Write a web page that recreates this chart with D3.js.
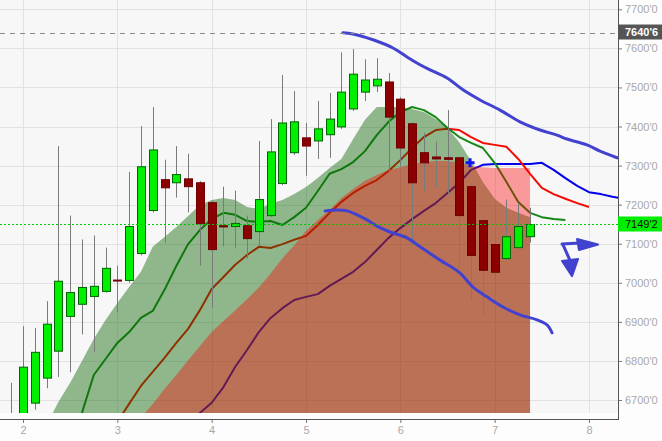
<!DOCTYPE html>
<html><head><meta charset="utf-8">
<script src="https://cdn.jsdelivr.net/npm/d3@7"></script>
<style>html,body{margin:0;padding:0;background:#fdfdfd;} svg{display:block;}</style>
</head><body><svg id="c" width="662" height="441"></svg>
<script>
// ---------- DATA ----------
const barTimes = [1.875, 2.000, 2.125, 2.250, 2.375, 2.500, 2.625, 2.750, 2.875, 3.000, 3.125, 3.250, 3.375,
  3.500, 3.625, 3.750, 3.875, 4.000, 4.125, 4.250, 4.375, 4.500, 4.625, 4.750, 4.875, 5.000, 5.125, 5.250,
  5.375, 5.500, 5.625, 5.750, 5.875, 6.000, 6.125, 6.250, 6.375, 6.500, 6.625, 6.750, 6.875, 7.000, 7.125,
  7.250, 7.375, 7.500, 7.625, 7.750, 7.875, 8.000, 8.125, 8.250, 8.375];

const opens  = [6650, 6640, 6692, 6756, 6825, 6914, 6945, 6965, 6978, 7007, 7006, 7075, 7185, 7264, 7256,
  7266, 7256, 7205, 7146, 7144, 7146, 7131, 7172, 7254, 7333, 7371, 7363, 7379, 7399, 7445, 7488, 7504,
  7514, 7470, 7407, 7333, 7322, 7320, 7320, 7246, 7159, 7098, 7062, 7090, 7118];
const highs  = [6744, 6889, 6884, 6953, 7350, 7172, 7111, 7121, 7090, 7044, 7284, 7401, 7450, 7315, 7350,
  7330, 7260, 7210, 7246, 7236, 7172, 7363, 7419, 7532, 7491, 7409, 7465, 7486, 7590, 7598, 7572, 7575,
  7537, 7475, 7410, 7384, 7361, 7442, 7322, 7250, 7162, 7110, 7213, 7205, 7192];
const lows   = [6560, 6620, 6675, 6730, 6759, 6771, 6868, 6822, 6975, 6924, 7000, 7070, 7180, 7103, 7218,
  7180, 7044, 6935, 7093, 7088, 7062, 7095, 7168, 7250, 7327, 7274, 7317, 7320, 7394, 7440, 7465, 7488,
  7284, 7297, 7098, 7236, 7243, 7225, 7039, 6953, 6914, 6965, 7058, 7088, 7103];
const closes = [6600, 6784, 6822, 6894, 7004, 6975, 6988, 6991, 7037, 7005, 7144, 7297, 7340, 7243, 7277,
  7246, 7151, 7085, 7143, 7152, 7113, 7213, 7335, 7409, 7412, 7350, 7394, 7419, 7488, 7534, 7519, 7521,
  7424, 7345, 7256, 7307, 7317, 7316, 7172, 7070, 7032, 7027, 7118, 7144, 7149.2];

const N = null;
const greenBand = [N, N, N, 6636, 6695, 6744, 6800, 6856, 6905, 6948, 6989, 7028, 7092, 7117, 7143, 7171,
  7199, 7212, 7217, 7212, 7194, 7189, 7202, 7212, 7227, 7245, 7268, 7294, 7317, 7368, 7417, 7450, 7450,
  7450, 7445, 7437, 7419, 7396, 7360, 7312, 7258, 7215, 7192, 7179, 7168, N, N, N, N, N, N, N, N];
const redBand = [N, N, N, N, N, N, N, N, N, N, N, 6654, 6690, 6728, 6764, 6802, 6838, 6874, 6902, 6930,
  6958, 6988, 7024, 7063, 7096, 7133, 7161, 7186, 7217, 7240, 7261, 7276, 7289, 7296, 7304, 7309, 7312,
  7312, 7307, 7299, 7296, 7294, 7294, 7294, 7294, N, N, N, N, N, N, N, N];
const lips = [N, N, N, N, N, 6600, 6667, 6764, 6805, 6846, 6874, 6910, 6928, 6982, 7043, 7099, 7135, 7163,
  7179, 7174, 7158, 7156, 7158, 7148, 7168, 7192, 7235, 7279, 7291, 7309, 7337, 7378, 7412, 7437, 7450,
  7442, 7424, 7396, 7373, 7358, 7345, 7307, 7258, 7207, 7179, 7168, 7163, 7161, N, N, N, N, N];
const teeth = [N, N, N, N, N, N, N, N, N, 6644, 6690, 6736, 6772, 6808, 6846, 6882, 6930, 6984, 7015, 7046,
  7071, 7092, 7089, 7099, 7110, 7120, 7148, 7179, 7207, 7230, 7248, 7263, 7286, 7314, 7345, 7373, 7391,
  7394, 7391, 7373, 7358, 7353, 7348, 7317, 7279, 7243, 7227, 7215, 7204, 7194, N, N, N];
const jaw = [N, N, N, N, N, N, N, N, N, N, N, N, N, N, N, 6640, 6667, 6693, 6733, 6785, 6828, 6874, 6910,
  6935, 6956, 6964, 6971, 6992, 7010, 7028, 7053, 7084, 7115, 7140, 7163, 7184, 7204, 7230, 7256, 7289,
  7302, 7304, 7304, 7304, 7304, 7307, 7289, 7268, 7248, 7232, 7227, 7220, 7215];

// hand-drawn annotations [time, price]
const upperTrend = [[5.392, 7640], [5.498, 7637], [5.710, 7622], [5.922, 7601], [6.071, 7578], [6.209, 7558],
  [6.315, 7545], [6.495, 7524], [6.664, 7494], [6.845, 7468], [7.057, 7442], [7.269, 7412], [7.481, 7391],
  [7.661, 7378], [7.767, 7368], [7.979, 7353], [8.117, 7337], [8.297, 7320]];
const lowerTrend = [[5.202, 7184], [5.329, 7186], [5.435, 7184], [5.541, 7174], [5.647, 7161], [5.753, 7145],
  [5.891, 7130], [6.071, 7115], [6.209, 7092], [6.421, 7058], [6.633, 7025], [6.770, 6989], [6.919, 6964],
  [7.089, 6938], [7.269, 6918], [7.449, 6905], [7.555, 6892], [7.608, 6872]];
const arrowRightStroke = [[7.714, 7099], [7.905, 7102]];
const arrowRightHead = [[7.873, 7112], [8.096, 7098], [7.894, 7084]];
const arrowDownStroke = [[7.725, 7097], [7.820, 7046]];
const arrowDownHead = [[7.714, 7056], [7.884, 7061], [7.820, 7017]];
const crossMarker = [6.739, 7307];

const refLevel = 7640.6;
const lastPrice = 7149.2;
const yTicks = [6700, 6800, 6900, 7000, 7100, 7200, 7300, 7400, 7500, 7600, 7700];
const xTicks = [2, 3, 4, 5, 6, 7, 8];

// ---------- LAYOUT ----------
const W = 662, H = 441, plotW = 618, plotH = 413, axisY = 419;
const svg = d3.select("#c");
const x = d3.scaleLinear().domain([2, 8]).range([23, 589]);
const y = d3.scaleLinear().domain([6700, 7700]).range([400, 9.3]);
const fmt = v => d3.format(".1f")(v).replace(".", "'");
const FONT = "'Liberation Sans', Arial, sans-serif";

svg.append("rect").attr("width", W).attr("height", H).attr("fill", "#fdfdfd");
svg.append("rect").attr("width", plotW).attr("height", plotH).attr("fill", "#f7f7f7");

svg.append("defs").append("clipPath").attr("id", "clip")
  .append("rect").attr("width", plotW).attr("height", plotH);

const grid = svg.append("g").attr("stroke", "#e2e2e2").attr("stroke-width", 1);
grid.selectAll("line.h").data(yTicks).join("line")
  .attr("x1", 0).attr("x2", plotW).attr("y1", d => Math.round(y(d)) + 0.5).attr("y2", d => Math.round(y(d)) + 0.5);
grid.selectAll("line.v").data(xTicks).join("line")
  .attr("y1", 0).attr("y2", plotH).attr("x1", d => Math.round(x(d)) + 0.5).attr("x2", d => Math.round(x(d)) + 0.5);

const g = svg.append("g").attr("clip-path", "url(#clip)");
const pts = arr => barTimes.map((t, k) => [t, arr[k]]);
const line = d3.line().defined(d => d[1] != null).x(d => x(d[0])).y(d => y(d[1]));
const area = d3.area().defined(d => d[1] != null).x(d => x(d[0])).y0(plotH).y1(d => y(d[1]));

// moving-average lines (under the translucent bands)
[[jaw, "rgb(0,0,235)"], [teeth, "rgb(245,10,0)"], [lips, "rgb(20,135,20)"]].forEach(([arr, c]) => {
  g.append("path").attr("d", line(pts(arr))).attr("fill", "none").attr("stroke", c)
    .attr("stroke-width", 2).attr("stroke-linejoin", "round");
});
g.append("path").attr("d", area(pts(greenBand))).attr("fill", "rgb(10,100,0)").attr("fill-opacity", 0.43);
g.append("path").attr("d", area(pts(redBand))).attr("fill", "rgb(255,0,0)").attr("fill-opacity", 0.38);

// candles
const candles = opens.map((o, k) => ({t: barTimes[k], o, h: highs[k], l: lows[k], c: closes[k]}));
const cg = g.append("g");
cg.selectAll("line.wick").data(candles).join("line")
  .attr("x1", d => Math.round(x(d.t)) + 0.5).attr("x2", d => Math.round(x(d.t)) + 0.5)
  .attr("y1", d => y(d.h)).attr("y2", d => y(d.l))
  .attr("stroke", "#7a7a7a").attr("stroke-width", 1);
cg.selectAll("rect.body").data(candles).join("rect")
  .attr("x", d => Math.round(x(d.t)) - 3.5)
  .attr("width", 8)
  .attr("y", d => y(Math.max(d.o, d.c)))
  .attr("height", d => Math.max(1, Math.abs(y(d.o) - y(d.c))))
  .attr("fill", d => d.c >= d.o ? "#00f000" : "#8b0000")
  .attr("stroke", d => d.c >= d.o ? "#006400" : "#700000")
  .attr("stroke-width", 1);

// annotations
const ann = "rgb(66,66,208)";
const aLine = d3.line().x(d => x(d[0])).y(d => y(d[1])).curve(d3.curveCatmullRom);
[upperTrend, lowerTrend, arrowRightStroke, arrowDownStroke].forEach(a => {
  g.append("path").attr("d", aLine(a)).attr("fill", "none").attr("stroke", ann)
    .attr("stroke-width", 3).attr("stroke-linecap", "round").attr("stroke-linejoin", "round");
});
[arrowRightHead, arrowDownHead].forEach(a => {
  g.append("path").attr("d", d3.line().x(d => x(d[0])).y(d => y(d[1]))(a) + "Z")
    .attr("fill", ann).attr("stroke", ann).attr("stroke-width", 2).attr("stroke-linejoin", "round");
});
const cx = x(crossMarker[0]), cy = y(crossMarker[1]);
g.append("path").attr("d", `M${cx - 4.5},${cy}H${cx + 4.5}M${cx},${cy - 4.5}V${cy + 4.5}`)
  .attr("stroke", "rgb(20,20,240)").attr("stroke-width", 3);

// reference lines
g.append("line").attr("x1", 0).attr("x2", plotW).attr("y1", Math.round(y(refLevel)) + 0.5).attr("y2", Math.round(y(refLevel)) + 0.5)
  .attr("stroke", "#8a8a8a").attr("stroke-dasharray", "5,5");
g.append("line").attr("x1", 0).attr("x2", plotW).attr("y1", Math.round(y(lastPrice)) + 0.5).attr("y2", Math.round(y(lastPrice)) + 0.5)
  .attr("stroke", "rgb(0,200,0)").attr("stroke-dasharray", "2,2");

// axes
const yAxis = svg.append("g").attr("transform", `translate(${plotW},0)`)
  .call(d3.axisRight(y).tickValues(yTicks).tickSize(4).tickPadding(3).tickFormat(fmt));
yAxis.select(".domain").remove();
yAxis.selectAll("line").attr("stroke", "#777");
yAxis.selectAll("text").attr("fill", "#a8a8a8").style("font", `11px ${FONT}`);

const xAxis = svg.append("g").attr("transform", `translate(0,${axisY})`)
  .call(d3.axisBottom(x).tickValues(xTicks).tickSize(4).tickPadding(3).tickFormat(d3.format("d")));
xAxis.select(".domain").remove();
xAxis.selectAll("line").attr("stroke", "#777");
xAxis.selectAll("text").attr("fill", "#a8a8a8").style("font", `11px ${FONT}`);

svg.append("line").attr("x1", plotW + 0.5).attr("x2", plotW + 0.5).attr("y1", 0).attr("y2", axisY + 0.5)
  .attr("stroke", "#555").attr("stroke-width", 1);
svg.append("line").attr("x1", 0).attr("x2", plotW + 1).attr("y1", axisY + 0.5).attr("y2", axisY + 0.5)
  .attr("stroke", "#555").attr("stroke-width", 1);

// price labels
function tag(v, bg, fg, weight) {
  const yy = y(v);
  svg.append("rect").attr("x", plotW).attr("y", yy - 8).attr("width", W - plotW).attr("height", 15).attr("fill", bg);
  svg.append("text").attr("x", plotW + 7).attr("y", yy).attr("dy", "0.35em").attr("fill", fg)
    .style("font", `${weight} 11px ${FONT}`).text(fmt(v));
}
tag(refLevel, "#555555", "#ffffff", "bold");
tag(lastPrice, "#00ee00", "#111111", "normal");
</script></body></html>
